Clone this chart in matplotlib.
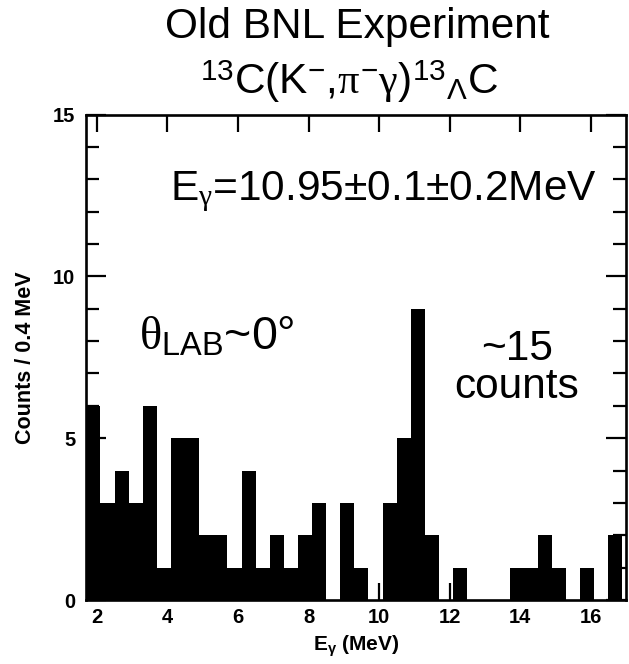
import numpy as np
import matplotlib
matplotlib.use("Agg")
import matplotlib.pyplot as plt
from matplotlib.ticker import MultipleLocator

# ---- data ----
bin_start = 1.7          # MeV, left edge of first bin
bin_width = 0.4          # MeV per bin
counts = [6, 3, 4, 3, 6, 1, 5, 5, 2, 2, 1, 4, 1, 2, 1, 2, 3, 0, 3, 1,
          0, 3, 5, 9, 2, 0, 1, 0, 0, 0, 1, 1, 2, 1, 0, 1, 0, 2]
x_ticks = [2, 4, 6, 8, 10, 12, 14, 16]
y_ticks = [0, 5, 10, 15]

title1 = "Old BNL Experiment"
title2 = r"$^{13}$C(K$^{-}$,$\pi^{-}\gamma$)$^{13}{}_{\mathit{\Lambda}}$C"
energy_text = r"E$_{\gamma}$=10.95±0.1±0.2MeV"
theta_text = r"$\theta_{\mathrm{LAB}}$~0°"
peak_text = "~15\ncounts"
xlabel = r"E$_{\mathbf{\gamma}}$ (MeV)"
ylabel = "Counts / 0.4 MeV"

# ---- style ----
plt.rcParams['font.family'] = ['Liberation Sans', 'DejaVu Sans']
plt.rcParams['mathtext.fontset'] = 'custom'
plt.rcParams['mathtext.rm'] = 'Liberation Sans'
plt.rcParams['mathtext.it'] = 'Liberation Serif'
plt.rcParams['mathtext.bf'] = 'Liberation Sans:bold'
plt.rcParams['mathtext.sf'] = 'Liberation Sans'

W, H = 629, 664
fig = plt.figure(figsize=(W / 100, H / 100), dpi=100)

def fx(x):
    return x / W

def fy(y):
    return 1 - y / H

ax_l, ax_r, ax_t, ax_b = 86.3, 626, 114.5, 600
ax = fig.add_axes([fx(ax_l), fy(ax_b), (ax_r - ax_l) / W, (ax_b - ax_t) / H])

edges = bin_start + bin_width * np.arange(len(counts) + 1)
ax.stairs(counts, edges, fill=True, color='black', linewidth=0)

ax.set_xlim(1.7, 17.0)
ax.set_ylim(0, 15)

for s in ax.spines.values():
    s.set_linewidth(1.9)
    s.set_color('black')

tick_font = ['Liberation Sans', 'DejaVu Sans']
ax.set_xticks(x_ticks)
ax.set_yticks(y_ticks)
ax.yaxis.set_minor_locator(MultipleLocator(1))
ax.tick_params(axis='y', which='major', direction='in', length=14.5, width=1.6,
               left=True, right=True, labelleft=True, pad=8)
ax.tick_params(axis='y', which='minor', direction='in', length=9.5, width=1.6,
               left=True, right=True)
ax.tick_params(axis='x', which='major', direction='in', length=12.5, width=1.6,
               top=True, bottom=True, pad=6)
for lab in ax.get_xticklabels() + ax.get_yticklabels():
    lab.set_fontfamily(tick_font)
    lab.set_fontweight('bold')
    lab.set_fontsize(14.5)

ax.set_xlabel(xlabel, fontfamily=tick_font, fontweight='bold', fontsize=15, labelpad=5)
ax.set_ylabel(ylabel, fontfamily=tick_font, fontweight='bold', fontsize=15.5, labelpad=12)

# ---- titles & annotations ----
fs = 30.5
fig.text(fx(357), fy(27), title1, ha='center', va='center', fontsize=fs)
fig.text(fx(349), fy(82), title2, ha='center', va='center', fontsize=fs)
fig.text(fx(597), fy(200), energy_text, ha='right', va='baseline', fontsize=fs)
fig.text(fx(139), fy(350), theta_text, ha='left', va='baseline', fontsize=33.5)
fig.text(fx(517), fy(398), peak_text, ha='center', va='baseline',
         multialignment='center', linespacing=0.95, fontsize=fs)

fig.savefig("out.png", dpi=100)
